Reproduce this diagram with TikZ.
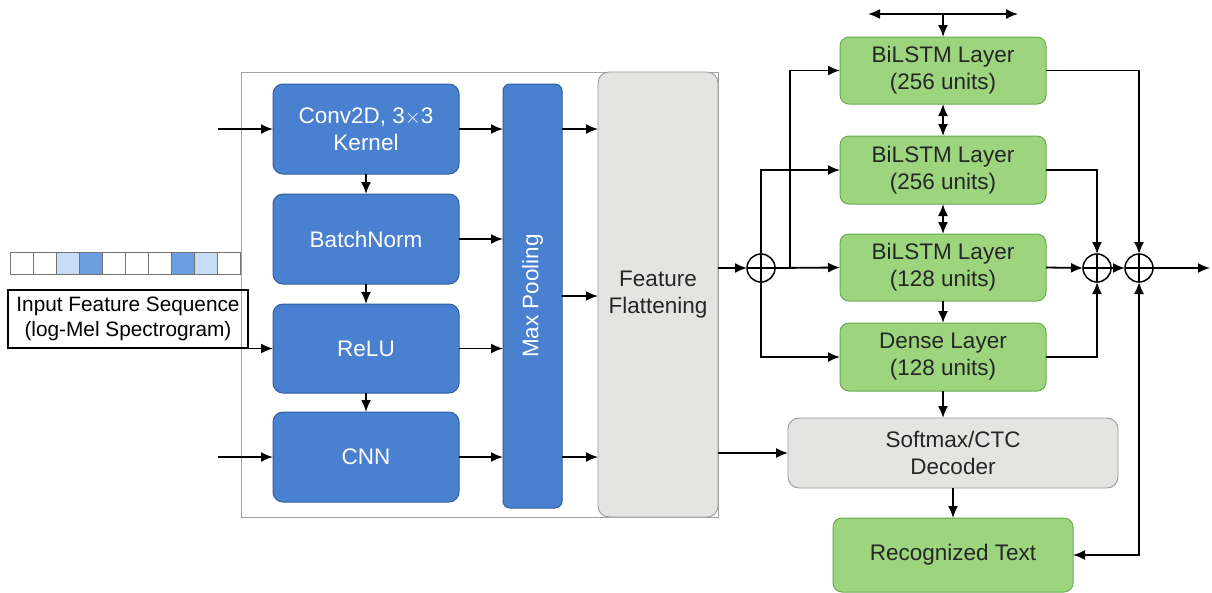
\documentclass[tikz,border=0pt]{standalone}
\usepackage{fontspec}
\setmainfont{Liberation Sans}
\usetikzlibrary{arrows.meta}
\definecolor{blueA}{HTML}{4A80D0}
\definecolor{blueE}{HTML}{2F5E9E}
\definecolor{greenA}{HTML}{9CD57E}
\definecolor{greenE}{HTML}{6AAA4E}
\definecolor{grayA}{HTML}{E4E4E2}
\definecolor{grayE}{HTML}{9A9A9A}
\definecolor{cellL}{HTML}{C8DCF6}
\definecolor{cellM}{HTML}{6C9EE2}
\tikzset{
  x=1pt, y=-1pt,
  every node/.style={inner sep=0pt, outer sep=0pt},
  txt/.style={font=\fontsize{22.5}{27}\selectfont, align=center},
  bluebox/.style={txt, anchor=north west, fill=blueA, draw=blueE, line width=1pt,
    rounded corners=10pt, text=white},
  greenbox/.style={txt, anchor=north west, fill=greenA, draw=greenE, line width=1pt,
    rounded corners=9pt, text=black!85},
  graybox/.style={txt, anchor=north west, fill=grayA, draw=grayE, line width=0.9pt,
    rounded corners=11pt, text=black!85},
  cell/.style={anchor=north west, minimum width=23pt, minimum height=22pt,
    draw=black!55, line width=0.8pt},
  sumnode/.style={circle, draw=black, line width=1.5pt, minimum size=28pt},
  tip/.tip={Latex[length=12pt,width=10pt]},
  arr/.style={-tip, line width=1.8pt},
  darr/.style={tip-tip, line width=1.8pt},
}
\begin{document}
\begin{tikzpicture}
\useasboundingbox[fill=white] (0,0) rectangle (1212,592);

% CNN front-end frame
\node[anchor=north west, minimum width=477pt, minimum height=445pt,
  draw=grayE!90, line width=0.9pt] (frame) at (241,72) {};

% convolutional blocks
\node[bluebox, minimum width=186pt, minimum height=90pt] (conv) at (273,84) {Conv2D, 3${\times}$3\\Kernel};
\node[bluebox, minimum width=186pt, minimum height=90pt] (bn) at (273,194) {BatchNorm};
\node[bluebox, minimum width=186pt, minimum height=89pt] (relu) at (273,304) {ReLU};
\node[bluebox, minimum width=186pt, minimum height=90pt] (cnn) at (273,412) {CNN};
\node[bluebox, minimum width=59pt, minimum height=424pt, rounded corners=7pt] (mp) at (503,84) {};
\node[txt, text=white, rotate=90] (mplab) at (mp.center) {Max Pooling};
\node[graybox, minimum width=120pt, minimum height=445pt] (ff) at (598,72) {Feature\\Flattening};

% input feature sequence strip
\node[cell] (c1) at (10,252) {};
\node[cell, anchor=west] (c2) at (c1.east) {};
\node[cell, anchor=west, fill=cellL] (c3) at (c2.east) {};
\node[cell, anchor=west, fill=cellM] (c4) at (c3.east) {};
\node[cell, anchor=west] (c5) at (c4.east) {};
\node[cell, anchor=west] (c6) at (c5.east) {};
\node[cell, anchor=west] (c7) at (c6.east) {};
\node[cell, anchor=west, fill=cellM] (c8) at (c7.east) {};
\node[cell, anchor=west, fill=cellL] (c9) at (c8.east) {};
\node[cell, anchor=west] (c10) at (c9.east) {};

\node[anchor=north west, minimum width=240pt, minimum height=58pt, draw=black, line width=1.4pt,
  font=\fontsize{20.8}{25}\selectfont, align=center] (lbl) at (8,290)
  {Input Feature Sequence\\(log-Mel Spectrogram)};

% recurrent back-end
\node[greenbox, minimum width=206pt, minimum height=67pt] (b1) at (840,37) {BiLSTM Layer\\(256 units)};
\node[greenbox, minimum width=206pt, minimum height=68pt] (b2) at (840,136) {BiLSTM Layer\\(256 units)};
\node[greenbox, minimum width=206pt, minimum height=67pt] (b3) at (840,234) {BiLSTM Layer\\(128 units)};
\node[greenbox, minimum width=206pt, minimum height=68pt] (dn) at (840,323) {Dense Layer\\(128 units)};
\node[graybox, minimum width=330pt, minimum height=70pt] (sm) at (788,418) {Softmax/CTC\\Decoder};
\node[greenbox, minimum width=240pt, minimum height=74pt] (rt) at (833,518) {Recognized Text};

% summation junctions
\node[sumnode] (s1) at (761,268) {};
\node[sumnode] (s2) at (1097,268) {};
\node[sumnode] (s3) at (1139,268) {};
\foreach \s in {s1,s2,s3}{
  \draw[line width=1.5pt] (\s.north) -- (\s.south);
  \draw[line width=1.5pt] (\s.west) -- (\s.east);
}

% free ends
\coordinate (inA) at (218,129);
\coordinate (inC) at (218,457);
\coordinate (tl) at (868,14);
\coordinate (tr) at (1018,14);
\coordinate (j1) at (790,268);
\coordinate (out) at (1210,268);

% inputs
\draw[arr] (inA) -- (conv.west);
\draw[arr] (lbl.east |- relu.west) -- (relu.west);
\draw[arr] (inC) -- (cnn.west);

% CNN stack
\draw[arr] (conv.south) -- (bn.north);
\draw[arr] (bn.south) -- (relu.north);
\draw[arr] (relu.south) -- (cnn.north);
\foreach \b in {conv,bn,relu,cnn}
  \draw[arr] (\b.east) -- (\b.east -| mp.west);
\draw[arr] (mp.east |- conv.east) -- (ff.west |- conv.east);
\draw[arr] (mp.east) -- (ff.west |- mp.east);
\draw[arr] (mp.east |- cnn.east) -- (ff.west |- cnn.east);

% flattening outputs
\draw[arr] (ff.east |- s1.west) -- (s1.west);
\draw[arr] (ff.east |- sm.west) -- (sm.west);

% fan-out into the recurrent layers
\draw[arr] (s1.east) -- (b3.west);
\draw[arr] (j1) |- (b1.west);
\draw[arr] (s1.north) |- (b2.west);
\draw[arr] (s1.south) |- (dn.west);

% layer-to-layer links
\draw[darr] (tl) -- (tr);
\draw[arr] (tl -| b1.north) -- (b1.north);
\draw[darr] (b1.south) -- (b2.north);
\draw[darr] (b2.south) -- (b3.north);
\draw[arr] (b3.south) -- (dn.north);
\draw[arr] (dn.south) -- (dn.south |- sm.north);
\draw[arr] (sm.south) -- (sm.south |- rt.north);

% residual merges
\draw[arr] (b3.east) -- (s2.west);
\draw[arr] (b2.east) -| (s2.north);
\draw[arr] (dn.east) -| (s2.south);
\draw[arr] (s2.east) -- (s3.west);
\draw[arr] (b1.east) -| (s3.north);
\draw[arr] (s3.east) -- (out);
\draw[darr] (s3.south) |- (rt.east);
\end{tikzpicture}
\end{document}
